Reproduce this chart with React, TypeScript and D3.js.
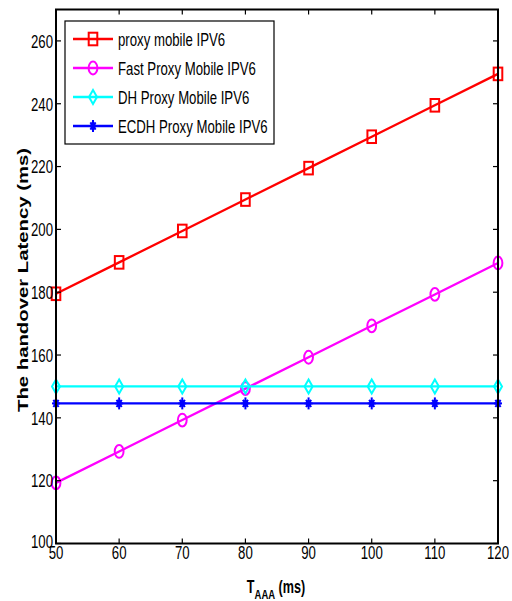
import React from "react";
import * as d3 from "d3";

const xValues = [50, 60, 70, 80, 90, 100, 110, 120];
const proxyMobile = [179.5, 189.5, 199.5, 209.5, 219.5, 229.5, 239.5, 249.5];
const fastProxy = [119.3, 129.3, 139.3, 149.3, 159.3, 169.3, 179.3, 189.3];
const dhProxy = [150, 150, 150, 150, 150, 150, 150, 150];
const ecdhProxy = [144.6, 144.6, 144.6, 144.6, 144.6, 144.6, 144.6, 144.6];
const xTicks = [50, 60, 70, 80, 90, 100, 110, 120];
const yTicks = [100, 120, 140, 160, 180, 200, 220, 240, 260];
const seriesNames = [
  "proxy mobile IPV6",
  "Fast Proxy Mobile IPV6",
  "DH Proxy Mobile IPV6",
  "ECDH Proxy Mobile IPV6",
];

const FONT = "'Liberation Sans', Arial, sans-serif";
const SY = 1.45;
const FS = 13.2;

type MarkerKind = "square" | "circle" | "diamond" | "star";

function Marker({ kind, x, y, color }: { kind: MarkerKind; x: number; y: number; color: string }) {
  if (kind === "square")
    return <rect x={x - 4.3} y={y - 6.3} width={8.6} height={12.6} fill="none" stroke={color} strokeWidth={2} />;
  if (kind === "circle")
    return <ellipse cx={x} cy={y} rx={4.4} ry={6.4} fill="none" stroke={color} strokeWidth={2} />;
  if (kind === "diamond")
    return (
      <path
        d={`M${x},${y - 7} L${x + 4},${y} L${x},${y + 7} L${x - 4},${y} Z`}
        fill="none"
        stroke={color}
        strokeWidth={2}
      />
    );
  return (
    <g stroke={color} strokeWidth={2}>
      <line x1={x} y1={y - 6} x2={x} y2={y + 6} />
      <line x1={x - 4} y1={y} x2={x + 4} y2={y} />
      <line x1={x - 2.6} y1={y - 3.6} x2={x + 2.6} y2={y + 3.6} />
      <line x1={x - 2.6} y1={y + 3.6} x2={x + 2.6} y2={y - 3.6} />
      <ellipse cx={x} cy={y} rx={2.6} ry={3.4} fill={color} stroke="none" />
    </g>
  );
}

function SText({ x, y, children, anchor = "start", weight = "normal", size = FS, sy = SY }: any) {
  return (
    <text
      transform={`translate(${x},${y}) scale(1,${sy})`}
      textAnchor={anchor}
      fontFamily={FONT}
      fontSize={size}
      fontWeight={weight}
      fill="#000"
    >
      {children}
    </text>
  );
}

export default function App() {
  const left = 56,
    right = 498,
    top = 9.5,
    bottom = 543.5;
  const x = d3.scaleLinear().domain([50, 120]).range([left, right]);
  const y = d3.scaleLinear().domain([100, 270]).range([bottom, top]);

  const series = [
    { name: seriesNames[0], values: proxyMobile, color: "#ff0000", kind: "square" as MarkerKind },
    { name: seriesNames[1], values: fastProxy, color: "#ff00ff", kind: "circle" as MarkerKind },
    { name: seriesNames[2], values: dhProxy, color: "#00ffff", kind: "diamond" as MarkerKind },
    { name: seriesNames[3], values: ecdhProxy, color: "#0000ff", kind: "star" as MarkerKind },
  ];

  const line = d3
    .line<number>()
    .x((_, i) => x(xValues[i]))
    .y((d) => y(d));

  const legendY = [39, 68, 97, 126];

  return (
    <svg
      width={512}
      height={601}
      style={{ position: "absolute", left: 0, top: 0, background: "#fff" }}
    >
      <rect x={0} y={0} width={512} height={601} fill="#fff" />
      {series.map((s) => (
        <g key={s.name}>
          <path d={line(s.values) || ""} fill="none" stroke={s.color} strokeWidth={2.3} />
          {s.values.map((v, i) => (
            <Marker key={i} kind={s.kind} x={x(xValues[i])} y={y(v)} color={s.color} />
          ))}
        </g>
      ))}
      <rect x={left} y={top} width={right - left} height={bottom - top} fill="none" stroke="#000" strokeWidth={2} />
      {xTicks.map((t) => (
        <g key={"xt" + t}>
          <line x1={x(t)} x2={x(t)} y1={bottom} y2={bottom - 5} stroke="#000" strokeWidth={1.2} />
          <line x1={x(t)} x2={x(t)} y1={top} y2={top + 5} stroke="#000" strokeWidth={1.2} />
          <SText x={x(t)} y={558.5} anchor="middle">
            {t}
          </SText>
        </g>
      ))}
      {yTicks.map((t) => (
        <g key={"yt" + t}>
          <line x1={left} x2={left + 5} y1={y(t)} y2={y(t)} stroke="#000" strokeWidth={1.2} />
          <line x1={right} x2={right - 5} y1={y(t)} y2={y(t)} stroke="#000" strokeWidth={1.2} />
          <SText x={53} y={y(t) + 6.8 - (t === 100 ? 2 : 0)} anchor="end">
            {t}
          </SText>
        </g>
      ))}
      <rect x={65} y={21} width={209} height={123} fill="#fff" stroke="#000" strokeWidth={1.2} />
      {series.map((s, i) => (
        <g key={"lg" + i}>
          <line x1={73} x2={113} y1={legendY[i]} y2={legendY[i]} stroke={s.color} strokeWidth={2.3} />
          <Marker kind={s.kind} x={93} y={legendY[i]} color={s.color} />
          <SText x={118} y={legendY[i] + 6.8}>
            {s.name}
          </SText>
        </g>
      ))}
      <text
        transform={`translate(276,593) scale(1,1.4)`}
        textAnchor="middle"
        fontFamily={FONT}
        fontSize={12.6}
        fontWeight="bold"
      >
        <tspan>T</tspan>
        <tspan fontSize={9.5} dy={4.5}>AAA</tspan>
        <tspan dy={-4.5}> (ms)</tspan>
      </text>
      <text
        transform="translate(28,280) rotate(-90)"
        textAnchor="middle"
        fontFamily={FONT}
        fontSize={14}
        fontWeight="bold"
        textLength={264}
        lengthAdjust="spacingAndGlyphs"
      >
        The handover Latency (ms)
      </text>
    </svg>
  );
}
